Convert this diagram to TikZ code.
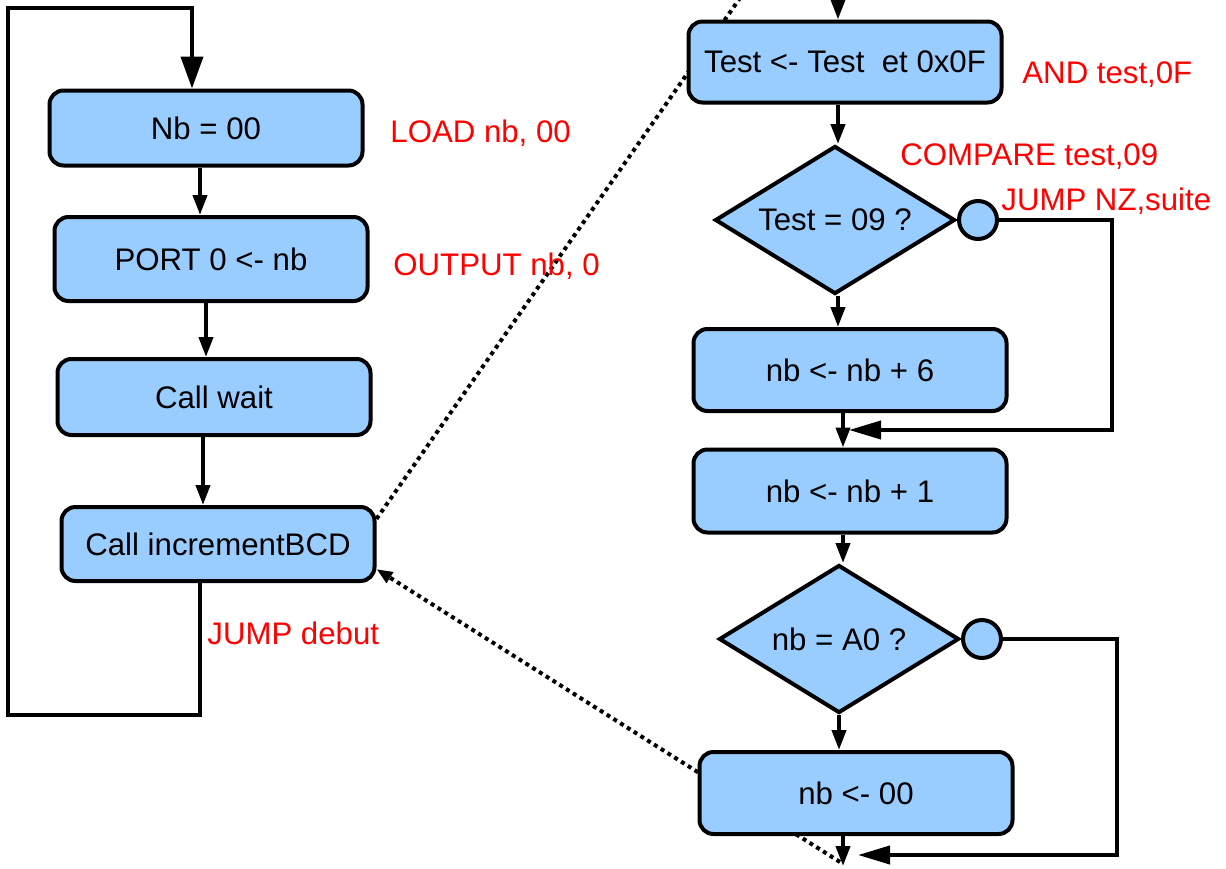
\documentclass[tikz,border=0pt]{standalone}
\usepackage{fontspec}
\setmainfont{Liberation Sans}
\usepackage{xcolor}
\usetikzlibrary{shapes.geometric, positioning, arrows.meta, backgrounds}

\definecolor{boxblue}{HTML}{99CCFF}

\tikzset{
  box/.style={draw, line width=2pt, rounded corners=7pt, fill=boxblue,
    minimum width=156.5pt, minimum height=38pt},
  cond/.style={draw, diamond, line width=2pt, fill=boxblue, inner sep=0pt,
    shape aspect=1.6, minimum width=120pt, minimum height=74pt},
  jnct/.style={draw, circle, line width=2pt, fill=boxblue, inner sep=0pt,
    minimum size=19pt},
  asm/.style={text=red, anchor=west, inner sep=0pt},
  flow/.style={line width=2pt, -{Triangle[length=10pt,width=7pt]}},
  back/.style={line width=2pt, -{Triangle[length=16pt,width=9pt]}},
  link/.style={line width=2pt, dash pattern=on 2pt off 2pt},
}

\begin{document}
\begin{tikzpicture}[x=0.5pt, y=-0.5pt, font=\fontsize{15.6}{19}\selectfont]
  \useasboundingbox (0,0) rectangle (1226,868);

  % main loop
  \node[box, minimum height=37.5pt] (nb00) at (206,128) {Nb = 00};
  \node[box, minimum height=42pt] (port) at (211,259) {PORT 0 <- nb};
  \node[box] (wait) at (214,397) {Call wait};
  \node[box, minimum height=37pt] (inc) at (218,544) {Call incrementBCD};

  \node[asm] at (390,133) {LOAD nb, 00};
  \node[asm] at (393,266) {OUTPUT nb, 0};
  \node[asm] at (207,633) {JUMP debut};

  % incrementBCD
  \node[box, minimum height=40.5pt] (test) at (845,62) {Test <- Test~ et 0x0F};
  \node[cond] (t09) at (835,220) {Test = 09 ?};
  \node[jnct, right=0pt of t09] (c1) {};
  \node[box, minimum height=41pt] (r6) at (850,370) {nb <- nb + 6};
  \node[box, minimum height=41.5pt] (r1) at (850,491) {nb <- nb + 1};
  \node[cond] (a0) at (839,639) {nb = A0 ?};
  \node[jnct, right=0pt of a0] (c2) {};
  \node[box, minimum height=41pt] (r0) at (856,793) {nb <- 00};

  \node[asm] at (1022,75) {AND test,0F};
  \node[asm] at (900,157) {COMPARE test,09};
  \node[asm] at (1001,201) {JUMP NZ,suite};

  \coordinate (in) at (838,0);
  \coordinate (out) at (843,866);
  \coordinate (m1) at (849,430);
  \coordinate (m2) at (858,855);
  \coordinate (up) at (740,-2);
  \coordinate (dn) at (840,862);

  \draw[flow] ([xshift=-3pt]nb00.south) -- ([xshift=-3pt]nb00.south |- port.north);
  \draw[flow] ([xshift=-2.5pt]port.south) -- ([xshift=-2.5pt]port.south |- wait.north);
  \draw[flow] ([xshift=-5.5pt]wait.south) -- ([xshift=-5.5pt]wait.south |- inc.north);
  \draw[line width=2pt, -{Triangle[length=16pt,width=11pt]}]
    ([xshift=-9pt]inc.south) |- (8,715) -- (8,8) -| ([xshift=-7pt]nb00.north);

  \draw[flow] (in) -- (in |- test.north);
  \draw[flow] ([xshift=-3.5pt]test.south) -- ([xshift=-3.5pt]test.south |- t09.north);
  \draw[flow] ([xshift=1.5pt]t09.south) -- ([xshift=1.5pt]t09.south |- r6.north);
  \draw[flow] ([xshift=-3.5pt]r6.south) -- ([xshift=-3.5pt]r6.south |- r1.north);
  \draw[flow] ([xshift=-3.5pt]r1.south) -- ([xshift=-3.5pt]r1.south |- a0.north);
  \draw[flow] (a0.south) -- (a0.south |- r0.north);
  \draw[flow] ([xshift=-6.5pt]r0.south) -- (out);
  \draw[back] (c1.east) -| (1112,430) -- (m1);
  \draw[back] (c2.east) -| (1117,855) -- (m2);

  % call and return
  \begin{scope}[on background layer]
    \draw[link] (inc.9) -- (up);
    \draw[link, -{Triangle[length=8pt,width=6pt]}] (dn) -- (inc.-9);
  \end{scope}
\end{tikzpicture}
\end{document}
